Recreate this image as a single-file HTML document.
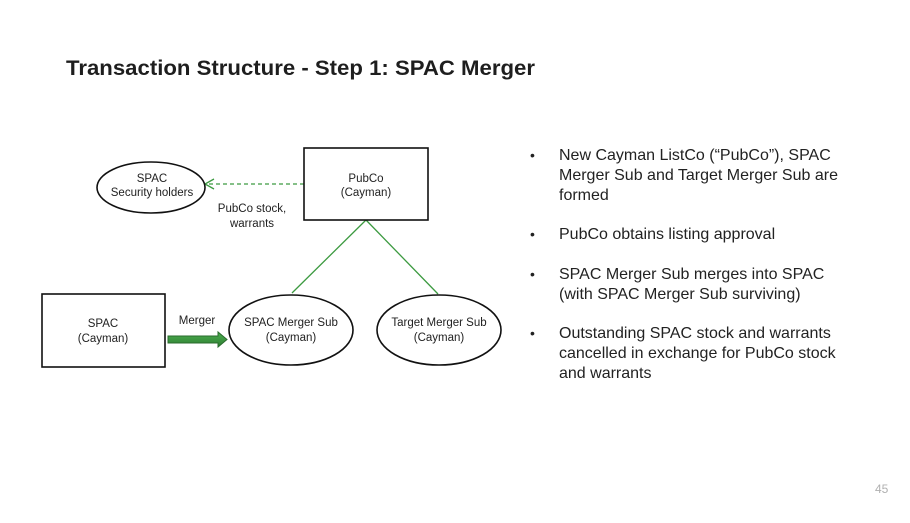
<!DOCTYPE html>
<html><head><meta charset="utf-8"><style>
html,body{margin:0;padding:0;background:#fff;}
svg{display:block;}
</style></head><body>
<svg width="910" height="523" viewBox="0 0 910 523" xmlns="http://www.w3.org/2000/svg" font-family="Liberation Sans, sans-serif">
<rect width="910" height="523" fill="#fff"/>
<text x="66" y="75" font-size="21.5" font-weight="bold" fill="#1e1e1e" textLength="469" lengthAdjust="spacingAndGlyphs">Transaction Structure - Step 1: SPAC Merger</text>

<!-- connectors -->
<line x1="366" y1="220" x2="292" y2="293" stroke="#3c9a40" stroke-width="1.3"/>
<line x1="366" y1="220" x2="438" y2="294" stroke="#3c9a40" stroke-width="1.3"/>
<line x1="304" y1="184" x2="206" y2="184" stroke="#3c9a40" stroke-width="1.3" stroke-dasharray="4,3"/>
<polyline points="214,179 205,184 214,189" fill="none" stroke="#3c9a40" stroke-width="1.3"/>

<!-- nodes -->
<ellipse cx="151" cy="187.5" rx="54" ry="25.5" fill="#fff" stroke="#111" stroke-width="1.6"/>
<rect x="304" y="148" width="124" height="72" fill="#fff" stroke="#111" stroke-width="1.6"/>
<rect x="42" y="294" width="123" height="73" fill="#fff" stroke="#111" stroke-width="1.6"/>
<ellipse cx="291" cy="330" rx="62" ry="35" fill="#fff" stroke="#111" stroke-width="1.6"/>
<ellipse cx="439" cy="330" rx="62" ry="35" fill="#fff" stroke="#111" stroke-width="1.6"/>

<!-- merger arrow -->
<defs><linearGradient id="g" x1="0" y1="0" x2="0" y2="1"><stop offset="0" stop-color="#4caf50"/><stop offset="1" stop-color="#2e7d32"/></linearGradient></defs>
<polygon points="168,336 218,336 218,332 227,339.5 218,347 218,343 168,343" fill="url(#g)" stroke="#2a6b2d" stroke-width="1"/>

<g font-size="11.5" fill="#222" text-anchor="middle">
<text x="152" y="182">SPAC</text>
<text x="152" y="196">Security holders</text>
<text x="366" y="182">PubCo</text>
<text x="366" y="196">(Cayman)</text>
<text x="252" y="212">PubCo stock,</text>
<text x="252" y="227">warrants</text>
<text x="103" y="327">SPAC</text>
<text x="103" y="342">(Cayman)</text>
<text x="197" y="324">Merger</text>
<text x="291" y="326">SPAC Merger Sub</text>
<text x="291" y="341">(Cayman)</text>
<text x="439" y="326">Target Merger Sub</text>
<text x="439" y="341">(Cayman)</text>
</g>

<g font-size="16" fill="#222">
<text x="530" y="160" font-size="14">•</text>
<text x="559" y="160">New Cayman ListCo (“PubCo”), SPAC</text>
<text x="559" y="180">Merger Sub and Target Merger Sub are</text>
<text x="559" y="200">formed</text>
<text x="530" y="239" font-size="14">•</text>
<text x="559" y="239">PubCo obtains listing approval</text>
<text x="530" y="279" font-size="14">•</text>
<text x="559" y="279">SPAC Merger Sub merges into SPAC</text>
<text x="559" y="299">(with SPAC Merger Sub surviving)</text>
<text x="530" y="338" font-size="14">•</text>
<text x="559" y="338">Outstanding SPAC stock and warrants</text>
<text x="559" y="358">cancelled in exchange for PubCo stock</text>
<text x="559" y="378">and warrants</text>
</g>

<text x="875" y="493" font-size="12" fill="#b0b0b0">45</text>
</svg>
</body></html>
